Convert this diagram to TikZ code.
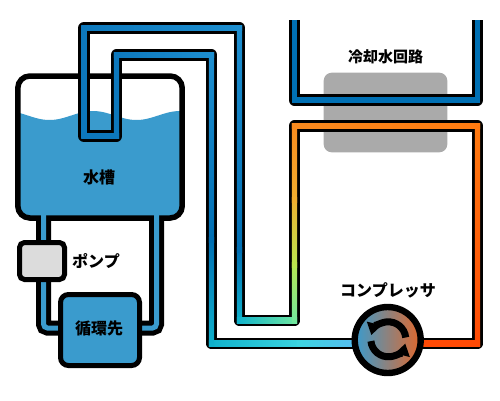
\documentclass[tikz,border=0pt]{standalone}
\usepackage{fontspec}
\setmainfont{Noto Sans CJK JP}
\usetikzlibrary{arrows.meta,calc}
\definecolor{rWater}{RGB}{58,155,205}
\definecolor{rCool}{RGB}{0,112,180}
\definecolor{rExch}{RGB}{170,170,170}
\definecolor{rPump}{RGB}{220,220,220}
\definecolor{rHot}{RGB}{226,104,44}
\definecolor{gDeep}{RGB}{0,110,178}
\definecolor{gMid}{RGB}{13,120,188}
\definecolor{gSky}{RGB}{30,143,208}
\definecolor{gTeal}{RGB}{16,178,204}
\definecolor{gCyan}{RGB}{60,212,224}
\definecolor{gLight}{RGB}{100,175,250}
\definecolor{gMint}{RGB}{112,232,160}
\definecolor{gLime}{RGB}{184,232,80}
\definecolor{gGold}{RGB}{240,176,48}
\definecolor{gAmber}{RGB}{249,138,30}
\definecolor{gOrange}{RGB}{255,122,16}
\definecolor{gRed}{RGB}{255,74,5}
% one straight piece of the coloured core: from the left or upper end to the right or lower end
\newcommand{\pipeh}[4]{\path[left color=#3,right color=#4] ($(#1)+(-2.6,-2.6)$) rectangle ($(#2)+(2.6,2.6)$);}
\newcommand{\pipev}[4]{\path[top color=#3,bottom color=#4] ($(#1)+(-2.6,-2.6)$) rectangle ($(#2)+(2.6,2.6)$);}
\begin{document}
\begin{tikzpicture}[
		x=1pt,y=-1pt,
		casing/.style={draw=black,line width=11.6pt,line join=round},
		drain/.style={draw=black,line width=15pt,rounded corners=4pt},
		box/.style={
			draw=black,line width=5.5pt,rounded corners=8pt,
			inner sep=0pt,outer sep=0pt
		},
		lbl/.style={font=\fontsize{16}{18}\selectfont\bfseries,text=black,inner sep=0pt},
		swirl/.style={line width=7pt,-{Triangle[length=12pt,width=14.5pt]}}
		]
		\useasboundingbox (0,0) rectangle (500,400);
		\fill[white] (0,0) rectangle (500,400);

		\node[fill=rExch,rounded corners=8pt,minimum width=123.6pt,minimum height=79.6pt,
		inner sep=0pt,outer sep=0pt] (exch) at (385.5,112.5) {};

		% tank
		\begin{scope}
			\clip[rounded corners=12pt] (17.8,76) rectangle (182.2,218);
			\fill[rWater] plot[domain=15:185,samples=70] (\x,{115.5-4.5*cos(4.138*(\x-93))})
			-- (185,222) -- (15,222) -- cycle;
		\end{scope}
		\node[box,rounded corners=12pt,minimum width=164.4pt,minimum height=142pt] (tank) at (100,147) {};
		\node[lbl] (tanklbl) at (99,177) {水槽};

		% circulation loop
		\coordinate (d1) at (43.5,215);
		\coordinate (d2) at (43.5,328);
		\coordinate (d3) at (156.5,328);
		\coordinate (d4) at (156.5,215);
		\draw[drain] (43.5,217) -- (d2) -- (d3) -- (156.5,217);
		\draw[rWater,line width=5pt,rounded corners=4pt] (d1) -- (d2) -- (d3) -- (d4);

		\node[box,fill=rPump,line width=5pt,rounded corners=5pt,minimum width=45pt,minimum height=37pt] (pump) at (42,261) {};
		\node[lbl] (pumplbl) at (96,261.5) {ポンプ};
		\node[box,fill=rWater,line width=5pt,minimum width=79pt,minimum height=71pt] (target) at (100,330) {};
		\node[lbl] (targetlbl) at (99,328) {循環先};

		% cooling water loop
		\coordinate (w1) at (294.5,20);
		\coordinate (w2) at (294.5,100);
		\coordinate (w3) at (477.5,100);
		\coordinate (w4) at (477.5,20);
		\draw[casing] (w1) -- (w2) -- (w3) -- (w4);
		\draw[rCool,line width=5.2pt] (w1) -- (w2) -- (w3) -- (w4);
		\node[lbl,font=\fontsize{15}{18}\selectfont\bfseries] (coollbl) at (385.5,56.5) {冷却水回路};

		% refrigerant loop
		\coordinate (r0) at (388,343.5);
		\coordinate (r1) at (211.5,343.5);
		\coordinate (r2) at (211.5,55);
		\coordinate (r3) at (116.5,55);
		\coordinate (r4) at (116.5,136);
		\coordinate (r5) at (84,136);
		\coordinate (r6) at (84,28);
		\coordinate (r7) at (239.5,28);
		\coordinate (r8) at (239.5,320.5);
		\coordinate (r9) at (294.5,320.5);
		\coordinate (r10) at (294.5,126);
		\coordinate (r11) at (477.5,126);
		\coordinate (r12) at (477.5,343.5);
		\draw[casing] (r0) -- (r1) -- (r2) -- (r3) -- (r4) -- (r5) -- (r6) -- (r7) -- (r8)
		-- (r9) -- (r10) -- (r11) -- (r12) -- (r0);

		\coordinate (ra) at (300,343.5);
		\coordinate (rb) at (211.5,240);
		\coordinate (rc) at (239.5,250);
		\coordinate (rd) at (294.5,265);
		\coordinate (re) at (294.5,200);

		\pipeh{r1}{ra}{gTeal}{gCyan}
		\pipeh{ra}{r0}{gCyan}{gLight}
		\pipev{rb}{r1}{gDeep}{gTeal}
		\pipev{r2}{rb}{gSky}{gDeep}
		\pipeh{r3}{r2}{gMid}{gSky}
		\pipev{r3}{r4}{gMid}{gMid}
		\pipeh{r5}{r4}{gMid}{gMid}
		\pipev{r6}{r5}{gMid}{gMid}
		\pipeh{r6}{r7}{gMid}{gSky}
		\pipev{rc}{r8}{gDeep}{gTeal}
		\pipev{r7}{rc}{gSky}{gDeep}
		\pipeh{r8}{r9}{gTeal}{gMint}
		\pipev{rd}{r9}{gLime}{gMint}
		\pipev{re}{rd}{gGold}{gLime}
		\pipev{r10}{re}{gAmber}{gGold}
		\pipeh{r10}{r11}{gAmber}{gOrange}
		\pipev{r11}{r12}{gOrange}{gRed}
		\pipeh{r0}{r12}{gRed}{gRed}

		% compressor
		\node[circle,draw=black,line width=6.4pt,left color=rWater,right color=rHot,
		minimum size=66pt,inner sep=0pt,outer sep=0pt] (comp) at (387.7,340) {};
		\draw[swirl] (388.3,339.3) ++(-6:17.5) arc[start angle=-6,end angle=-166,radius=17.5];
		\draw[swirl] (388.3,339.3) ++(-186:17.5) arc[start angle=-186,end angle=-346,radius=17.5];
		\node[lbl] (complbl) at (388,290) {コンプレッサ};
\end{tikzpicture}
\end{document}
